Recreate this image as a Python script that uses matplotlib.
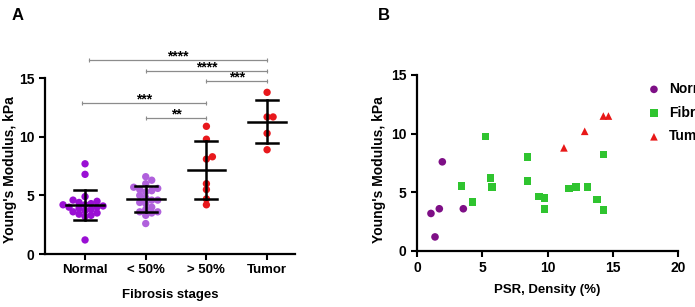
import matplotlib
matplotlib.use('Agg')
import matplotlib.pyplot as plt
import numpy as np

# Panel A - Young's modulus per fibrosis stage
stages = ['Normal', '< 50%', '> 50%', 'Tumor']
normal_vals = [7.7, 6.8, 4.9, 4.6, 4.5, 4.4, 4.3, 4.2, 4.2, 4.1, 4.0, 4.0,
               3.9, 3.8, 3.7, 3.6, 3.5, 3.4, 3.3, 3.2, 1.2]
low_vals = [6.6, 6.3, 6.0, 5.7, 5.6, 5.5, 5.4, 5.3, 5.0, 4.8, 4.6, 4.6,
            4.4, 4.3, 4.0, 3.8, 3.6, 3.6, 3.5, 3.3, 2.6]
high_vals = [10.9, 9.8, 8.3, 8.1, 6.0, 5.5, 4.7, 4.2]
tumor_vals = [13.8, 11.7, 11.7, 10.3, 8.9]
group_colors = ['#9a0fd4', '#b060dc', '#e8181c', '#e8181c']

# significance comparisons (group i, group j, label)
comparisons = [(0, 3, '****'), (1, 3, '****'), (2, 3, '***'),
               (0, 2, '***'), (1, 2, '**')]

# Panel B - Young's modulus vs PSR density
normal_psr = [1.07, 1.38, 1.71, 1.94, 3.55]
normal_ym = [3.2, 1.2, 3.6, 7.6, 3.6]
fib_psr = [3.42, 4.24, 5.26, 5.62, 5.77, 8.48, 8.48, 9.35, 9.76, 9.76,
           11.67, 12.18, 13.08, 13.79, 14.28, 14.28]
fib_ym = [5.53, 4.18, 9.75, 6.2, 5.45, 8.0, 5.96, 4.66, 4.52, 3.56,
          5.31, 5.45, 5.45, 4.38, 3.47, 8.22]
tumor_psr = [11.26, 12.85, 14.28, 14.67]
tumor_ym = [8.79, 10.2, 11.5, 11.5]

plt.rcParams['font.family'] = ['Liberation Sans', 'DejaVu Sans']
plt.rcParams['font.weight'] = 'bold'
plt.rcParams['axes.labelweight'] = 'bold'

fig = plt.figure(figsize=(6.95, 3.07), dpi=100)

# ---------- Panel A ----------
axA = fig.add_axes([45 / 695, 53 / 307, 250 / 695, 205 / 307])
px_per_cat = 60.67
px_per_unit = 11.73
groups = [normal_vals, low_vals, high_vals, tumor_vals]
for i, vals in enumerate(groups):
    vals = np.array(vals)
    # simple beeswarm, offsets worked out in pixels
    order = np.argsort(vals)
    placed = []
    xs = np.zeros(len(vals))
    for j in order:
        y_px = vals[j] * px_per_unit
        for k in range(60):
            off = ((k + 1) // 2) * (1 if k % 2 else -1) * 2.0
            if all(np.hypot(off - ox, y_px - oy) >= 5.5 for ox, oy in placed):
                break
        placed.append((off, y_px))
        xs[j] = i + off / px_per_cat
    axA.scatter(xs, vals, s=28, color=group_colors[i], edgecolors='none',
                zorder=3, clip_on=False)
    m = vals.mean()
    sd = vals.std(ddof=1)
    axA.plot([i - 0.31, i + 0.31], [m, m], color='black', lw=1.8, zorder=4)
    axA.plot([i, i], [m - sd, m + sd], color='black', lw=1.8, zorder=4)
    for yy in (m - sd, m + sd):
        axA.plot([i - 0.18, i + 0.18], [yy, yy], color='black', lw=1.8,
                 zorder=4)

levels = [16.6, 15.65, 14.75, 12.9, 11.65]
for (g1, g2, lab), lev in zip(comparisons, levels):
    x1 = g1 + (0.07 if g1 == 0 and g2 == 3 else (-0.05 if g1 == 0 else 0))
    axA.plot([x1, g2], [lev, lev], color='#8c8c8c', lw=0.9, clip_on=False,
             marker='|', ms=2.5, mew=0.8)
    axA.text((x1 + g2) / 2, lev - 0.05, lab, ha='center', va='baseline',
             fontsize=10, fontweight='bold', clip_on=False)

axA.set_xlim(-0.66, 3.46)
axA.set_ylim(0, 17.5)
axA.set_xticks(range(4))
axA.set_xticklabels(stages, fontsize=9.5)
axA.set_yticks([0, 5, 10, 15])
axA.tick_params(axis='y', labelsize=10, width=1.5, length=4)
axA.tick_params(axis='x', width=1.5, length=4)
for s in ['top', 'right']:
    axA.spines[s].set_visible(False)
axA.spines['left'].set_bounds(0, 15)
axA.spines['left'].set_linewidth(1.6)
axA.spines['bottom'].set_linewidth(1.6)
axA.set_ylabel("Young's Modulus, kPa", fontsize=10)
axA.yaxis.set_label_coords(-0.112, 7.2 / 17.5)
axA.set_xlabel('Fibrosis stages', fontsize=9.5, labelpad=9)
fig.text(12 / 695, 1 - 15 / 307, 'A', fontsize=12, fontweight='bold',
         va='center')

# ---------- Panel B ----------
axB = fig.add_axes([417 / 695, 56 / 307, 261 / 695, 176 / 307])
axB.scatter(normal_psr, normal_ym, s=30, marker='o', color='#7e0f86',
            edgecolors='none', label='Normal', clip_on=False, zorder=3)
axB.scatter(fib_psr, fib_ym, s=30, marker='s', color='#2fc42f',
            edgecolors='none', label='Fibrosis', clip_on=False, zorder=3)
axB.scatter(tumor_psr, tumor_ym, s=30, marker='^', color='#e81818',
            edgecolors='none', label='Tumor', clip_on=False, zorder=3)
axB.set_xlim(0, 20)
axB.set_ylim(0, 15)
axB.set_xticks([0, 5, 10, 15, 20])
axB.set_yticks([0, 5, 10, 15])
axB.tick_params(labelsize=10, width=1.5, length=4)
for s in ['top', 'right']:
    axB.spines[s].set_visible(False)
axB.spines['left'].set_linewidth(1.6)
axB.spines['bottom'].set_linewidth(1.6)
axB.set_ylabel("Young's Modulus, kPa", fontsize=10)
axB.yaxis.set_label_coords(-0.12, 0.46)
axB.set_xlabel('PSR, Density (%)', fontsize=9.5, labelpad=6)
axB.legend(loc='upper left', bbox_to_anchor=(647 / 695, 1 - 82 / 307),
           bbox_transform=fig.transFigure, frameon=False, fontsize=10,
           handletextpad=0.6, labelspacing=0.7, borderaxespad=0,
           borderpad=0, handlelength=1.0)
fig.text(378 / 695, 1 - 16 / 307, 'B', fontsize=12, fontweight='bold',
         va='center')

fig.savefig('out.png', dpi=100)
